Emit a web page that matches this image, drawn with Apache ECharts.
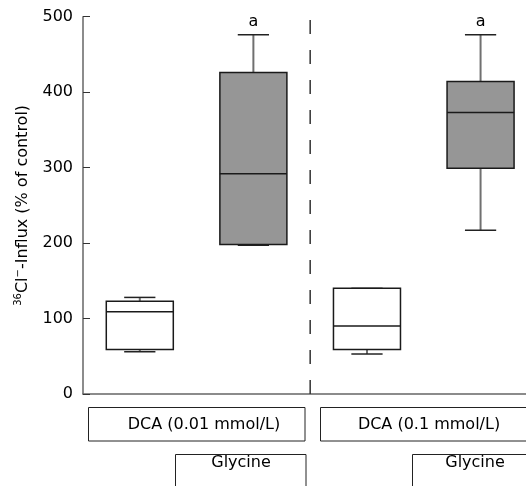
<!DOCTYPE html>
<html><head><meta charset="utf-8">
<script src="https://cdn.jsdelivr.net/npm/echarts@6/dist/echarts.min.js"></script>
<style>html,body{margin:0;padding:0;background:#fff}#c{width:526px;height:486px}</style>
</head><body><div id="c"></div>
<script>
// Data
var groups = ['DCA 0.01', 'DCA 0.01 + Glycine', 'DCA 0.1', 'DCA 0.1 + Glycine'];
var whiskerLow  = [56, 197, 53, 217];
var q1          = [59, 198, 59, 299];
var median      = [109, 292, 90, 373];
var q3          = [123, 426, 140, 414];
var whiskerHigh = [128, 476, 140, 476];
var boxFill     = ['#ffffff', '#969696', '#ffffff', '#969696'];
var sigMarks    = ['', 'a', '', 'a'];
var yTicks      = [0, 100, 200, 300, 400, 500];
var dividerX    = [2, 2];
var dividerY    = [0, 506.5];
var dcaLabels   = ['DCA (0.01 mmol/L)', 'DCA (0.1 mmol/L)'];
var glyLabels   = ['Glycine', 'Glycine'];

var data = groups.map(function (g, i) {
  return [i + 0.5, whiskerLow[i], q1[i], median[i], q3[i], whiskerHigh[i], i];
});
var dividerData = dividerX.map(function (x, i) { return [x, dividerY[i]]; });

var chart = echarts.init(document.getElementById('c'), null, {renderer: 'canvas'});
var FONT = 'DejaVu Sans';

function renderItem(params, api) {
  var x = api.value(0);
  var idx = api.value(6);
  var pLow = api.coord([x, api.value(1)]);
  var pQ1 = api.coord([x, api.value(2)]);
  var pMed = api.coord([x, api.value(3)]);
  var pQ3 = api.coord([x, api.value(4)]);
  var pHigh = api.coord([x, api.value(5)]);
  var bw = api.size([0.59, 0])[0];
  var cw = api.size([0.275, 0])[0];
  var cx = pQ1[0];
  var children = [
    {type: 'line', shape: {x1: cx, y1: pQ3[1], x2: cx, y2: pHigh[1]}, style: {stroke: '#707070', lineWidth: 2}},
    {type: 'line', shape: {x1: cx, y1: pQ1[1], x2: cx, y2: pLow[1]}, style: {stroke: '#707070', lineWidth: 2}},
    {type: 'line', shape: {x1: cx - cw / 2, y1: pHigh[1], x2: cx + cw / 2, y2: pHigh[1]}, style: {stroke: '#222', lineWidth: 1.5}},
    {type: 'line', shape: {x1: cx - cw / 2, y1: pLow[1], x2: cx + cw / 2, y2: pLow[1]}, style: {stroke: '#222', lineWidth: 1.5}},
    {type: 'rect', shape: {x: cx - bw / 2, y: pQ3[1], width: bw, height: pQ1[1] - pQ3[1]},
      style: {fill: boxFill[idx], stroke: '#1a1a1a', lineWidth: 1.5}},
    {type: 'line', shape: {x1: cx - bw / 2, y1: pMed[1], x2: cx + bw / 2, y2: pMed[1]}, style: {stroke: '#1a1a1a', lineWidth: 1.5}}
  ];
  if (sigMarks[idx]) {
    children.push({type: 'text', x: cx, y: pHigh[1] - 13,
      style: {text: sigMarks[idx], font: '16px "' + FONT + '"', fill: '#000', align: 'center', verticalAlign: 'middle'}});
  }
  return {type: 'group', children: children};
}

var option = {
  animation: false,
  backgroundColor: '#fff',
  grid: {left: 83, top: 16.7, right: 0, height: 377.3},
  xAxis: {
    type: 'value', min: 0, max: 3.9,
    axisLine: {show: true, onZero: false, lineStyle: {color: '#666', width: 1.5}},
    axisTick: {show: false}, axisLabel: {show: false}, splitLine: {show: false}
  },
  yAxis: {
    type: 'value', min: yTicks[0], max: yTicks[yTicks.length - 1], interval: 100,
    name: '{s|36}Cl{s|−}-Influx (% of control)', nameLocation: 'middle', nameGap: 46,
    nameTextStyle: {
      fontFamily: FONT, fontSize: 16, color: '#000',
      rich: {s: {fontFamily: FONT, fontSize: 10, color: '#000', verticalAlign: 'top', lineHeight: 18, padding: [0, 0, 8, 0]}}
    },
    axisLine: {show: true, lineStyle: {color: '#666', width: 1.5}},
    axisTick: {show: true, inside: true, length: 7, lineStyle: {color: '#333'}},
    axisLabel: {fontFamily: FONT, fontSize: 16, color: '#000', margin: 10},
    splitLine: {show: false}
  },
  series: [{
    type: 'custom', renderItem: renderItem, data: data, clip: false,
    encode: {x: 0, y: [1, 2, 3, 4, 5]}
  }, {
    type: 'line', data: dividerData, symbol: 'none', clip: false, silent: true,
    lineStyle: {color: '#333', type: [14, 16], width: 1.5}
  }],
  graphic: [
    {type: 'rect', shape: {x: 88.5, y: 407.5, width: 216.5, height: 33.5}, style: {fill: '#fff', stroke: '#222', lineWidth: 1}},
    {type: 'rect', shape: {x: 320.5, y: 407.5, width: 210, height: 33.5}, style: {fill: '#fff', stroke: '#222', lineWidth: 1}},
    {type: 'rect', shape: {x: 175.5, y: 454.5, width: 130.5, height: 40}, style: {fill: '#fff', stroke: '#222', lineWidth: 1}},
    {type: 'rect', shape: {x: 412.5, y: 454.5, width: 120, height: 40}, style: {fill: '#fff', stroke: '#222', lineWidth: 1}},
    {type: 'text', x: 204, y: 424.5, style: {text: dcaLabels[0], font: '16px "' + FONT + '"', fill: '#000', align: 'center', verticalAlign: 'middle'}},
    {type: 'text', x: 429, y: 424.5, style: {text: dcaLabels[1], font: '16px "' + FONT + '"', fill: '#000', align: 'center', verticalAlign: 'middle'}},
    {type: 'text', x: 241, y: 463, style: {text: glyLabels[0], font: '16px "' + FONT + '"', fill: '#000', align: 'center', verticalAlign: 'middle'}},
    {type: 'text', x: 475, y: 463, style: {text: glyLabels[1], font: '16px "' + FONT + '"', fill: '#000', align: 'center', verticalAlign: 'middle'}}
  ]
};
chart.setOption(option);
</script></body></html>
